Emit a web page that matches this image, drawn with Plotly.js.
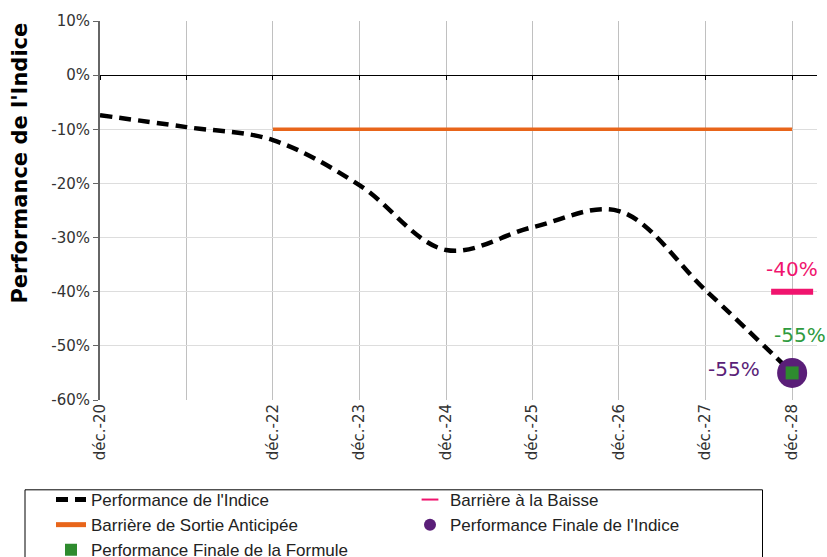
<!DOCTYPE html>
<html>
<head>
<meta charset="utf-8">
<script src="https://cdn.plot.ly/plotly-3.0.1.min.js"></script>
<style>html,body{margin:0;padding:0;background:#fff;}#chart{width:827px;height:557px;}</style>
</head>
<body>
<div id="chart"></div>
<script>
// ---- data ----
const dates = ['2020-12-31','2021-12-31','2022-12-31','2023-12-31','2024-12-31','2025-12-31','2026-12-31','2027-12-31','2028-12-31'];
const tickLabels = ['déc.-20','','déc.-22','déc.-23','déc.-24','déc.-25','déc.-26','déc.-27','déc.-28'];
const yTickVals = [10, 0, -10, -20, -30, -40, -50, -60];
const yTickText = ['10%', '0%', '-10%', '-20%', '-30%', '-40%', '-50%', '-60%'];
const perfIndice = [-7.4, -9.6, -12.0, -20.3, -32.3, -28.1, -25.1, -39.7, -55.0];
const sortieDates = ['2022-12-31','2023-12-31','2024-12-31','2025-12-31','2026-12-31','2027-12-31','2028-12-31'];
const sortieValues = [-10, -10, -10, -10, -10, -10, -10];
const finalDate = ['2028-12-31'];
const barriereBaisse = [-40];
const finaleIndice = [-55];
const finaleFormule = [-55];

const yMin = -60, yMax = 10;
const zeroPos = (0 - yMin) / (yMax - yMin);

const traces = [
  {name: "Performance de l'Indice", x: dates, y: perfIndice, type: 'scatter', mode: 'lines',
   line: {color: '#000000', width: 4.5, dash: '12px,7px', shape: 'spline', smoothing: 1}, hoverinfo: 'skip'},
  {name: 'Barrière à la Baisse', x: finalDate, y: barriereBaisse, type: 'scatter', mode: 'markers',
   marker: {symbol: 'line-ew', size: 30, line: {color: '#F0146E', width: 6}, color: '#F0146E'}, hoverinfo: 'skip'},
  {name: 'Barrière de Sortie Anticipée', x: sortieDates, y: sortieValues, type: 'scatter', mode: 'lines',
   xaxis: 'x2', line: {color: '#E8651A', width: 3.5}, hoverinfo: 'skip'},
  {name: "Performance Finale de l'Indice", x: finalDate, y: finaleIndice, type: 'scatter', mode: 'markers',
   marker: {symbol: 'circle', size: 30, color: '#5A1E78'}, hoverinfo: 'skip'},
  {name: 'Performance Finale de la Formule', x: finalDate, y: finaleFormule, type: 'scatter', mode: 'markers',
   marker: {symbol: 'square', size: 13, color: '#2E8B2E'}, hoverinfo: 'skip'}
];

const fmt = v => Math.round(v) + '%';
const labelFont = {family: 'DejaVu Sans, Verdana, sans-serif', size: 20};

const layout = {
  width: 827, height: 557,
  margin: {l: 100, r: 10, t: 21, b: 157},
  paper_bgcolor: '#ffffff', plot_bgcolor: '#ffffff',
  showlegend: true,
  xaxis: {
    type: 'date', range: ['2020-12-31', '2029-04-15'],
    tickvals: dates, ticktext: tickLabels, tickangle: -90,
    showgrid: true, gridcolor: '#C0C0C0', gridwidth: 1,
    showline: false, zeroline: false, ticks: '', automargin: false,
    tickfont: {family: 'DejaVu Sans, Verdana, sans-serif', size: 15, color: '#333333'}
  },
  xaxis2: {
    type: 'date', matches: 'x', overlaying: 'x', anchor: 'free', position: zeroPos,
    tickvals: dates, showticklabels: false, showgrid: false, zeroline: false,
    showline: true, linecolor: '#000000', linewidth: 1,
    ticks: 'outside', ticklen: 4, tickcolor: '#000000', tickwidth: 1
  },
  yaxis: {
    range: [yMin, yMax], tickvals: yTickVals, ticktext: yTickText,
    showgrid: true, gridcolor: '#DDDDDD', gridwidth: 1, automargin: false,
    zeroline: false, showline: true, linecolor: '#666666', linewidth: 2,
    ticks: 'outside', ticklen: 5, tickcolor: '#666666',
    tickfont: {family: 'DejaVu Sans, Verdana, sans-serif', size: 15, color: '#333333'}
  },
  legend: {
    orientation: 'h', xref: 'container', yref: 'container',
    x: 51 / 827, y: 1 - 482 / 557, xanchor: 'left', yanchor: 'top',
    entrywidth: 314, entrywidthmode: 'pixels', itemsizing: 'constant',
    bgcolor: 'rgba(0,0,0,0)', borderwidth: 0,
    font: {family: 'Liberation Sans, Arial, sans-serif', size: 17, color: '#222222'}
  },
  shapes: [
    {type: 'rect', xref: 'paper', yref: 'paper', x0: -0.1046, x1: 0.924, y0: -0.237, y1: -0.5,
     line: {color: '#000000', width: 1}, fillcolor: 'rgba(0,0,0,0)'}
  ],
  annotations: [
    {text: "Performance de l'Indice", xref: 'paper', yref: 'paper', x: -0.111, y: 0.625,
     xanchor: 'center', yanchor: 'middle', textangle: -90, showarrow: false,
     font: {family: 'DejaVu Sans, Verdana, sans-serif', size: 21, color: '#000000', weight: 'bold'}},
    {text: fmt(barriereBaisse[0]), x: finalDate[0], y: barriereBaisse[0], xref: 'x', yref: 'y',
     showarrow: false, yshift: 23, xanchor: 'center', font: Object.assign({color: '#F0146E'}, labelFont)},
    {text: fmt(finaleFormule[0]), x: finalDate[0], y: finaleFormule[0], xref: 'x', yref: 'y',
     showarrow: false, yshift: 38, xshift: 8, xanchor: 'center', font: Object.assign({color: '#2E9B3E'}, labelFont)},
    {text: fmt(finaleIndice[0]), x: finalDate[0], y: finaleIndice[0], xref: 'x', yref: 'y',
     showarrow: false, yshift: 4, xshift: -30, xanchor: 'right', font: Object.assign({color: '#5A1E78'}, labelFont)}
  ]
};

Plotly.newPlot('chart', traces, layout, {staticPlot: true, displayModeBar: false});
</script>
</body>
</html>
